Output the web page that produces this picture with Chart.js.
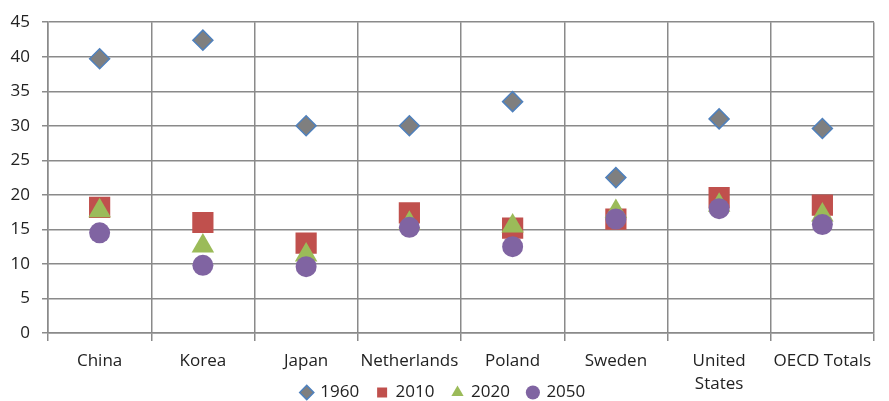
<!DOCTYPE html>
<html>
<head>
<meta charset="utf-8">
<script src="https://cdn.jsdelivr.net/npm/chart.js@4/dist/chart.umd.min.js"></script>
<style>
html,body{margin:0;padding:0;background:#fff;}
#wrap{width:889px;height:401px;position:relative;}
</style>
</head>
<body>
<div id="wrap"><canvas id="c" width="889" height="401"></canvas></div>
<script>
const categories = ['China', 'Korea', 'Japan', 'Netherlands', 'Poland', 'Sweden', ['United', 'States'], 'OECD Totals'];
const years = ['1960', '2010', '2020', '2050'];
const v1960 = [39.7, 42.4, 30.0, 30.0, 33.5, 22.5, 31.0, 29.6];
const v2010 = [18.2, 16.0, 13.0, 17.4, 15.2, 16.5, 19.6, 18.5];
const v2020 = [17.7, 12.6, 11.3, 15.9, 15.5, 17.6, 18.5, 17.1];
const v2050 = [14.5, 9.8, 9.6, 15.3, 12.5, 16.5, 18.0, 15.7];
const yTicks = [0, 5, 10, 15, 20, 25, 30, 35, 40, 45];

const FONT = "'Open Sans', sans-serif";
const TXT = '#222222';

function ds(label, data, style, fill, border, radius, bw, order) {
  return {
    label, data, showLine: false, order,
    pointStyle: style, pointRadius: radius, pointHoverRadius: radius,
    backgroundColor: fill, borderColor: border, pointBorderWidth: bw, borderWidth: bw
  };
}

// let the two-line category label extend past the (shortened) x-axis box
const unclipLabels = {
  id: 'unclipLabels',
  afterLayout(chart) { chart.scales.x.bottom = chart.height; }
};

new Chart(document.getElementById('c'), {
  type: 'line',
  data: {
    labels: categories,
    datasets: [
      ds(years[0], v1960, 'rectRot', '#7f7f7f', '#4f81bd', 10, 1.5, 3),
      ds(years[1], v2010, 'rect', '#c0504d', '#c0504d', 15, 0, 2),
      ds(years[2], v2020, 'triangle', '#9bbb59', '#9bbb59', 13, 0, 1),
      ds(years[3], v2050, 'circle', '#8064a2', '#8064a2', 10.5, 0, 0)
    ]
  },
  plugins: [unclipLabels],
  options: {
    responsive: false,
    animation: false,
    events: [],
    layout: { padding: { top: 17, right: 2, left: 0, bottom: -10 } },
    plugins: {
      tooltip: { enabled: false },
      legend: {
        position: 'bottom',
        labels: {
          usePointStyle: true,
          font: { family: FONT, size: 17 },
          color: TXT,
          padding: 18,
          boxWidth: 10,
          boxHeight: 10,
          sort: (a, b) => a.datasetIndex - b.datasetIndex
        }
      }
    },
    scales: {
      x: {
        offset: true,
        grid: { offset: true, color: '#8a8a8a', lineWidth: 1.5, tickLength: 8, drawOnChartArea: true },
        border: { color: '#8a8a8a', width: 1.5 },
        ticks: { font: { family: FONT, size: 17, lineHeight: 1.35 }, color: TXT, maxRotation: 0, autoSkip: false, padding: 9 },
        afterFit(s) { s.height = 33; s.paddingRight = 0; s.paddingLeft = 0; }
      },
      y: {
        min: 0, max: 45,
        afterBuildTicks(s) { s.ticks = yTicks.map(v => ({ value: v })); },
        grid: { color: '#8a8a8a', lineWidth: 1.5, tickLength: 6 },
        border: { color: '#8a8a8a', width: 1.5 },
        ticks: { font: { family: FONT, size: 17 }, color: TXT, padding: 12 },
        afterFit(s) { s.width = 48; }
      }
    }
  }
});
</script>
</body>
</html>
